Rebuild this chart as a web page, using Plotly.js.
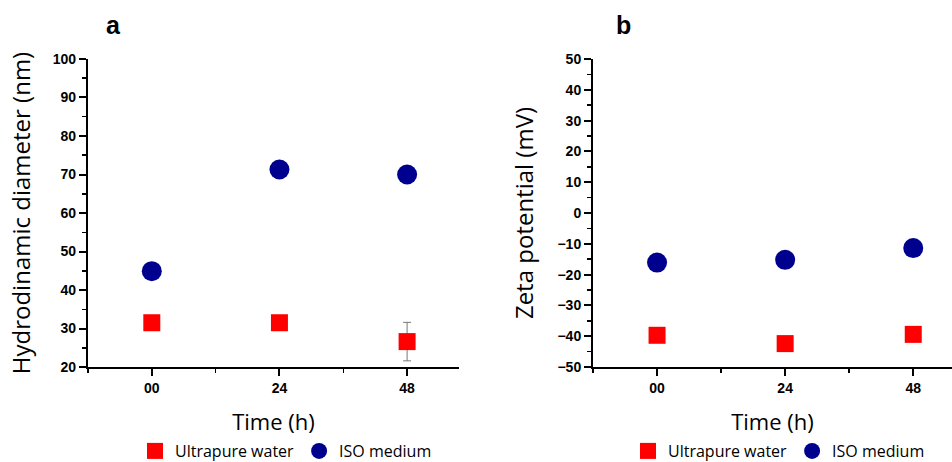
<!DOCTYPE html>
<html>
<head>
<meta charset="utf-8">
<script src="https://cdn.plot.ly/plotly-3.0.1.min.js"></script>
<style>html,body{margin:0;padding:0;background:#fff;}#chart{width:952px;height:462px;}</style>
</head>
<body>
<div id="chart"></div>
<script>
var times = [0, 24, 48];
var timeLabels = ['00', '24', '48'];
var seriesNames = ['Ultrapure water', 'ISO medium'];

var diamWater = [31.5, 31.5, 26.6];
var diamWaterErr = [1.6, 1.6, 5.0];
var diamIso = [44.9, 71.3, 70.0];
var diamIsoErr = [1.5, 1.5, 1.3];

var zetaWater = [-39.7, -42.4, -39.4];
var zetaWaterErr = [0.8, 0.8, 0.8];
var zetaIso = [-16.1, -15.2, -11.4];
var zetaIsoErr = [0.8, 0.8, 0.8];

var red = '#ff0000', navy = '#00008f';

function tr(x, y, err, name, sym, size, color, xa, ya, leg) {
  return {
    x: x, y: y, type: 'scatter', mode: 'markers', name: name,
    xaxis: xa, yaxis: ya, legend: leg,
    marker: {symbol: sym, size: size, color: color, line: {width: 0}},
    error_y: {type: 'data', array: err, visible: true, color: '#777', thickness: 1, width: 4}
  };
}

var data = [
  tr(times, diamWater, diamWaterErr, seriesNames[0], 'square', 17, red, 'x', 'y', 'legend'),
  tr(times, diamIso, diamIsoErr, seriesNames[1], 'circle', 20, navy, 'x', 'y', 'legend'),
  tr(times, zetaWater, zetaWaterErr, seriesNames[0], 'square', 17, red, 'x2', 'y2', 'legend2'),
  tr(times, zetaIso, zetaIsoErr, seriesNames[1], 'circle', 20, navy, 'x2', 'y2', 'legend2')
];

var tickFont = {family: 'Liberation Sans, Arial, sans-serif', size: 14, color: '#000', weight: 'bold'};
var titleFont = {family: 'Open Sans, sans-serif', size: 22, color: '#000'};
var yTitleFont = {family: 'Open Sans, sans-serif', size: 24, color: '#000'};

function xax(domain, range, anchor) {
  return {
    domain: domain, range: range, anchor: anchor,
    tickmode: 'array', tickvals: times, ticktext: timeLabels,
    ticks: 'outside', ticklen: 7, tickwidth: 2, tickcolor: '#000',
    showline: true, linewidth: 2, linecolor: '#000',
    showgrid: false, zeroline: false, tickfont: tickFont,
    minor: {tickmode: 'linear', tick0: 0, dtick: 12, ticks: 'outside', ticklen: 4, tickwidth: 1.5, tickcolor: '#000', showgrid: false},
    title: {text: 'Time (h)', font: titleFont, standoff: 20},
    fixedrange: true
  };
}
function yax(range, title, anchor, standoff) {
  return {
    domain: [0.2056, 0.8723], range: range, anchor: anchor,
    tickmode: 'linear', dtick: 10,
    ticks: 'outside', ticklen: 7, tickwidth: 2, tickcolor: '#000',
    showline: true, linewidth: 2, linecolor: '#000',
    showgrid: false, zeroline: false, tickfont: tickFont,
    minor: {tickmode: 'linear', dtick: 5, ticks: 'outside', ticklen: 4, tickwidth: 1.5, tickcolor: '#000', showgrid: false},
    title: {text: title, font: yTitleFont, standoff: standoff},
    fixedrange: true
  };
}

var legFont = {family: 'Open Sans, sans-serif', size: 16, color: '#000'};
var layout = {
  width: 952, height: 462,
  margin: {l: 0, r: 0, t: 0, b: 0, autoexpand: false},
  paper_bgcolor: '#fff', plot_bgcolor: '#fff',
  xaxis: xax([0.0924, 0.4821], [-12, 57.75], 'y'),
  yaxis: yax([20, 100], 'Hydrodinamic diameter (nm)', 'x', 15),
  xaxis2: xax([0.6229, 1], [-12, 55.26], 'y2'),
  yaxis2: yax([-50, 50], 'Zeta potential (mV)', 'x2', 17),
  legend: {orientation: 'h', x: 135 / 952, xanchor: 'left', y: 1 - 451 / 462, yanchor: 'middle', font: legFont, bgcolor: 'rgba(0,0,0,0)', itemclick: false},
  legend2: {orientation: 'h', x: 628 / 952, xanchor: 'left', y: 1 - 451 / 462, yanchor: 'middle', font: legFont, bgcolor: 'rgba(0,0,0,0)', itemclick: false},
  annotations: [
    {text: 'a', xref: 'paper', yref: 'paper', x: 113 / 952, y: 1 - 25 / 462, showarrow: false, xanchor: 'center', yanchor: 'middle', font: {family: 'Liberation Sans, Arial, sans-serif', size: 25, weight: 'bold', color: '#000'}},
    {text: 'b', xref: 'paper', yref: 'paper', x: 623 / 952, y: 1 - 25 / 462, showarrow: false, xanchor: 'center', yanchor: 'middle', font: {family: 'Liberation Sans, Arial, sans-serif', size: 25, weight: 'bold', color: '#000'}}
  ],
  showlegend: true
};

Plotly.newPlot('chart', data, layout, {displayModeBar: false, staticPlot: true});
</script>
</body>
</html>
